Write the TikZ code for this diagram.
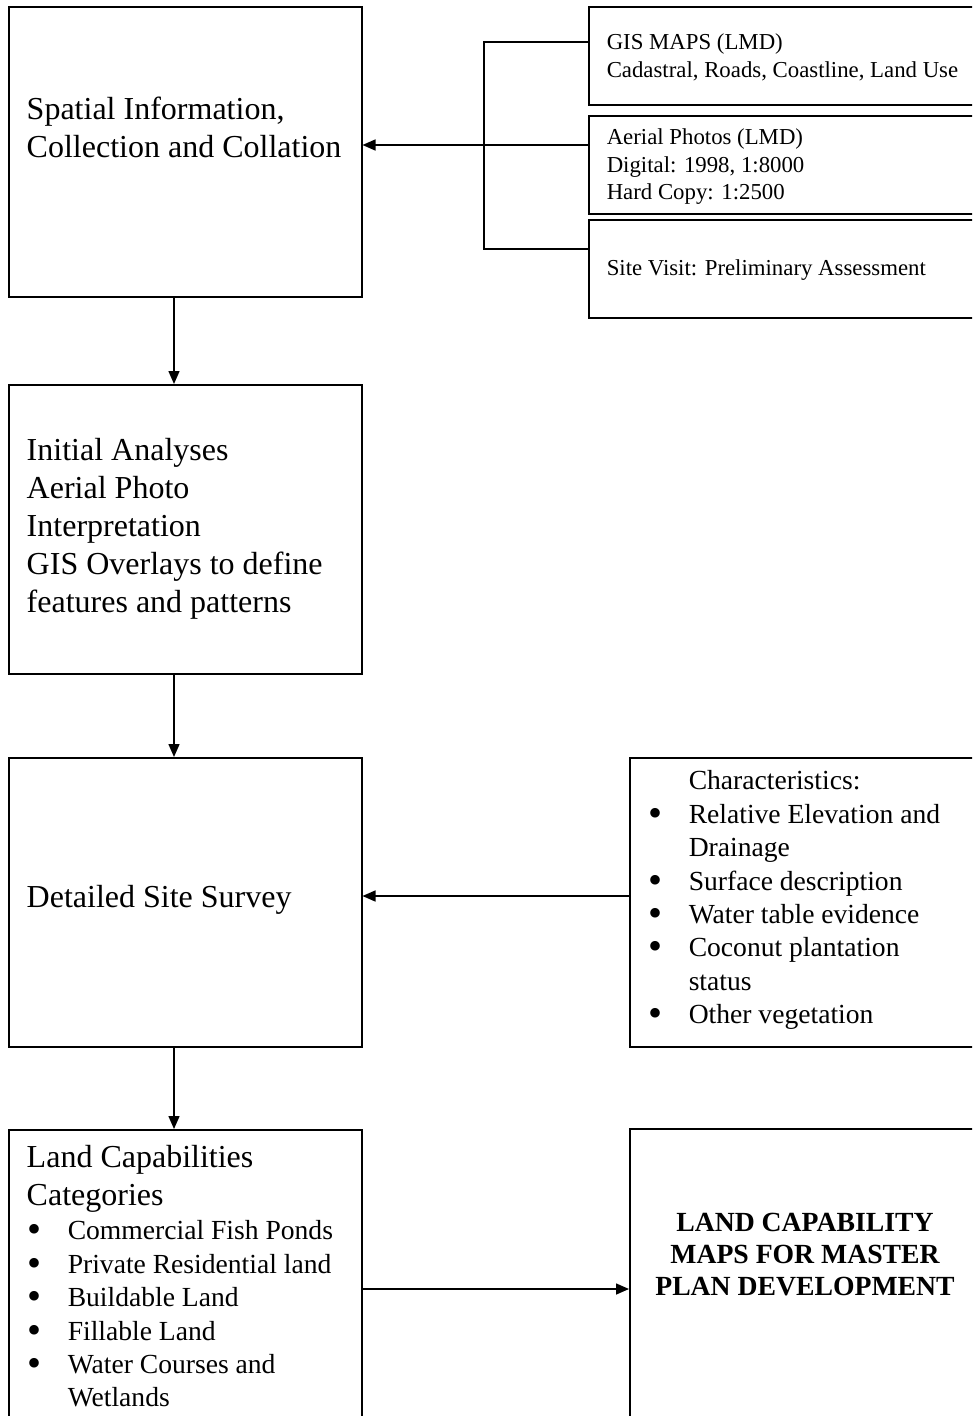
\documentclass[tikz,border=0pt]{standalone}
\usepackage{fontspec}
\usepackage{graphicx}
\setmainfont{Liberation Serif}
\usetikzlibrary{arrows.meta}
\newcommand{\bul}{\makebox[40pt][l]{\smash{\raisebox{-3pt}{\scalebox{1.45}{•}}}}}
\newcommand{\ind}{\hspace*{40pt}}
\begin{document}
\begin{tikzpicture}[x=1pt,y=-1pt, line width=1.5pt,
 box/.style={draw=black, line width=1.5pt, rectangle, inner sep=0pt, anchor=north west},
 txt/.style={anchor=north west, inner sep=0pt, align=left},
 arr/.style={-{Triangle[length=13pt,width=11pt]}},
 big/.style={font=\fontsize{32}{38}\selectfont},
 med/.style={font=\fontsize{27.6}{33.4}\selectfont},
 sml/.style={font=\fontsize{22.8}{27.7}\selectfont}]
\useasboundingbox (0,0) rectangle (972,1416);
\clip (0,0) rectangle (972,1416);
% boxes
\node[box, minimum width=353pt, minimum height=290pt] (A) at (8,6) {};
\node[box, minimum width=400pt, minimum height=98pt] (G1) at (588,6) {};
\node[box, minimum width=400pt, minimum height=98pt] (G2) at (588,115) {};
\node[box, minimum width=400pt, minimum height=98pt] (G3) at (588,219) {};
\node[box, minimum width=353pt, minimum height=289pt] (B) at (8,384) {};
\node[box, minimum width=353pt, minimum height=289pt] (C) at (8,757) {};
\node[box, minimum width=360pt, minimum height=289pt] (CH) at (629,757) {};
\node[box, minimum width=353pt, minimum height=320pt] (D) at (8,1129) {};
\node[box, minimum width=352pt, minimum height=320pt] (E) at (629,1128) {};
% texts
\node[txt, big] (tA) at (26,96) {Spatial Information,\\Collection and Collation};
\node[txt, big] (tB) at (26,438) {Initial Analyses\\Aerial Photo\\Interpretation\\GIS Overlays to define\\features and patterns};
\node[txt, big] (tC) at (26,885) {Detailed Site Survey};
\node[txt, big] (tD) at (26,1145) {Land Capabilities\\Categories};
\node[txt, med] (tDl) at (27,1220) {\bul Commercial Fish Ponds\\\bul Private Residential land\\\bul Buildable Land\\\bul Fillable Land\\\bul Water Courses and\\\ind Wetlands};
\node[txt, med] (tCH) at (648,770) {\ind Characteristics:\\\bul Relative Elevation and\\\ind Drainage\\\bul Surface description\\\bul Water table evidence\\\bul Coconut plantation\\\ind status\\\bul Other vegetation};
\node[txt, sml] (tG1) at (606,33) {GIS MAPS (LMD)\\Cadastral, Roads, Coastline, Land Use};
\node[txt, sml] (tG2) at (606,128) {Aerial Photos (LMD)\\Digital: 1998, 1:8000\\Hard Copy: 1:2500};
\node[txt, sml] (tG3) at (606,259) {Site Visit: Preliminary Assessment};
\node[anchor=north, inner sep=0pt, align=center, font=\fontsize{27.7}{32}\selectfont\bfseries] (tE) at (805,1212) {LAND CAPABILITY\\MAPS FOR MASTER\\PLAN DEVELOPMENT};
% connectors
\coordinate (hubtop) at (484,42);
\coordinate (hub) at (484,145);
\coordinate (hubbot) at (484,249);
\coordinate (col) at (174,0);
\coordinate (c2) at (0,896);
\coordinate (c3) at (0,1289);
\draw (G1.west |- hubtop) -- (hubtop) -- (hubbot) -- (G3.west |- hubbot);
\draw (G2.west |- hub) -- (hub);
\draw[arr] (hub) -- (A.east |- hub);
\draw[arr] (A.south -| col) -- (B.north -| col);
\draw[arr] (B.south -| col) -- (C.north -| col);
\draw[arr] (C.south -| col) -- (D.north -| col);
\draw[arr] (CH.west |- c2) -- (C.east |- c2);
\draw[arr] (D.east |- c3) -- (E.west |- c3);
\end{tikzpicture}
\end{document}
